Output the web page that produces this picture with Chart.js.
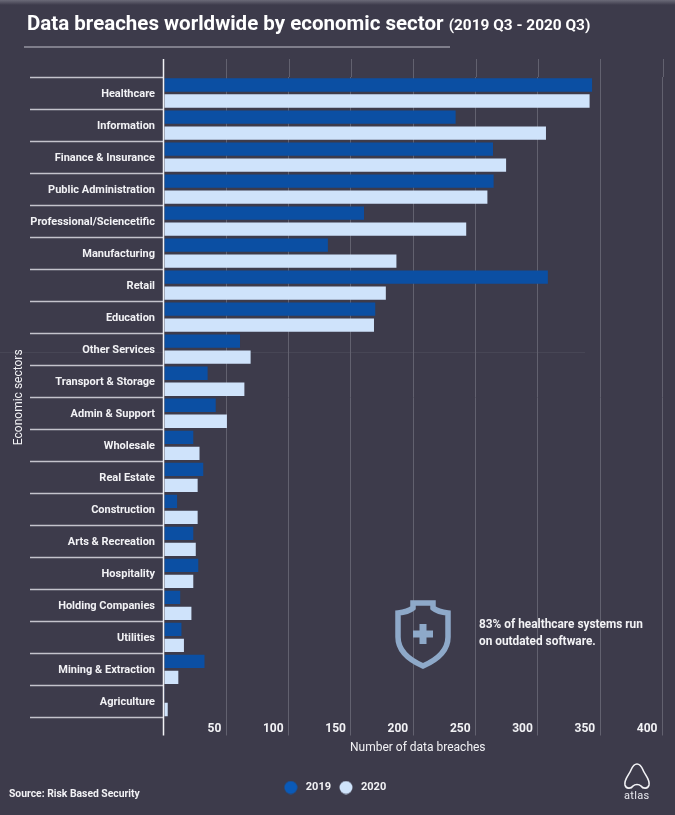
<!DOCTYPE html>
<html>
<head>
<meta charset="utf-8">
<script src="https://cdn.jsdelivr.net/npm/chart.js@4"></script>
<style>
  html, body { margin: 0; padding: 0; }
  body { width: 675px; height: 815px; overflow: hidden; position: relative; background: #3d3b4b; font-family: Roboto, sans-serif; color: #f2f2f5; }
  #topbar { position: absolute; left: 0; top: 0; width: 675px; height: 5px; background: linear-gradient(#6b6a78, #3d3b4b); }
  #faint { position: absolute; left: 0; top: 352px; width: 585px; height: 1px; background: #474655; }
  #title { position: absolute; left: 27px; top: 11px; font-size: 20.5px; font-weight: 700; color: #fff; white-space: nowrap; }
  #title span { font-size: 15.4px; }
  #rule { position: absolute; left: 24px; top: 46px; width: 426px; height: 2px; background: #7f7e8b; }
  canvas { position: absolute; left: 0; top: 0; }
  #note { position: absolute; left: 479px; top: 616px; font-size: 11.85px; line-height: 17px; font-weight: 700; white-space: nowrap; }
  #source { position: absolute; left: 9px; top: 787px; font-size: 10.35px; font-weight: 700; white-space: nowrap; }
  #shield, #logo { position: absolute; }
  #shield { left: 394px; top: 599px; }
  #logo { left: 622px; top: 762px; }
  #logotext { position: absolute; left: 624px; top: 789px; font-size: 11px; color: #e8e8ee; letter-spacing: 0.3px; }
</style>
</head>
<body>
<div id="topbar"></div>
<div id="faint"></div>
<canvas id="chart" width="675" height="815"></canvas>
<div id="title">Data breaches worldwide by economic sector <span>(2019 Q3 - 2020 Q3)</span></div>
<div id="rule"></div>
<svg id="shield" width="58" height="72" viewBox="0 0 58 72">
  <path d="M19 4 H39 V9 Q44 13 54 14 V38 Q54 56 29 67 Q4 56 4 38 V14 Q14 13 19 9 Z" fill="none" stroke="#8ea9c9" stroke-width="5.5"/>
  <path d="M25.5 25 H32.5 V31.5 H39 V38.5 H32.5 V45 H25.5 V38.5 H19 V31.5 H25.5 Z" fill="#8ea9c9"/>
</svg>
<div id="note">83% of healthcare systems run<br>on outdated software.</div>
<div id="source">Source: Risk Based Security</div>
<svg id="logo" width="30" height="30" viewBox="0 0 30 30">
  <path d="M15 2 C11 2 10 6 8 10 C6 14 2 18 3 23 C4 27 9 27 11 24 C13 22 17 22 19 24 C21 27 26 27 27 23 C28 18 24 14 22 10 C20 6 19 2 15 2 Z" fill="none" stroke="#f2f2f5" stroke-width="1.6"/>
</svg>
<div id="logotext">atlas</div>

<script>
const sectors = ["Healthcare", "Information", "Finance & Insurance", "Public Administration", "Professional/Sciencetific", "Manufacturing", "Retail", "Education", "Other Services", "Transport & Storage", "Admin & Support", "Wholesale", "Real Estate", "Construction", "Arts & Recreation", "Hospitality", "Holding Companies", "Utilities", "Mining & Extraction", "Agriculture"];
const breaches2019 = [343.5, 234, 264, 264.5, 160.5, 131.5, 308, 169.5, 61, 35, 41.5, 23.5, 31.5, 10.5, 23.5, 27.5, 13, 14, 32.5, 0.5];
const breaches2020 = [341.5, 306.5, 274.5, 259.5, 242.5, 186.5, 178, 168.5, 69.5, 64.5, 50.5, 28.5, 27, 27, 25.5, 23.5, 22, 16, 11.5, 3];
const xTicks = [0, 50, 100, 150, 200, 250, 300, 350, 400];

const gridColor = "#62616f";
const zeroColor = "#f2f2f5";
const gridTop = 59;
const gridTail = 18;

// legend dots: a bit brighter than the bars, like the original
function dot(color) {
  const c = document.createElement("canvas");
  c.width = 14;
  c.height = 14;
  const ctx = c.getContext("2d");
  ctx.fillStyle = color;
  ctx.beginPath();
  ctx.arc(7, 7, 6.5, 0, Math.PI * 2);
  ctx.fill();
  return c;
}

// grid lines run a bit above the first category in the original
const topGrid = {
  id: "topGrid",
  beforeDatasetsDraw(chart) {
    const x = chart.scales.x;
    const ctx = chart.ctx;
    ctx.save();
    ctx.lineWidth = 1;
    ctx.strokeStyle = gridColor;
    xTicks.slice(1).forEach((v) => {
      const px = Math.round(x.getPixelForValue(v)) + 0.5;
      ctx.beginPath();
      ctx.moveTo(px, gridTop);
      ctx.lineTo(px, chart.chartArea.top);
      ctx.stroke();
    });
    ctx.restore();
  },
  // the zero line stays visible next to the bars
  afterDatasetsDraw(chart) {
    const px = chart.scales.x.getPixelForValue(0) - 0.5;
    const ctx = chart.ctx;
    ctx.save();
    ctx.lineWidth = 1.5;
    ctx.strokeStyle = zeroColor;
    ctx.beginPath();
    ctx.moveTo(px, gridTop);
    ctx.lineTo(px, chart.chartArea.bottom + gridTail);
    ctx.stroke();
    ctx.restore();
  },
};

// legend and x title sit slightly right of where the layout centres them
const nudge = {
  id: "nudge",
  afterLayout(chart) {
    chart.legend.left += 2.5;
    chart.legend.right += 2.5;
    const x = chart.scales.x;
    const drawTitle = x.drawTitle;
    x.drawTitle = function () {
      chart.ctx.save();
      chart.ctx.translate(4.5, 0);
      drawTitle.call(x);
      chart.ctx.restore();
    };
  },
};

new Chart(document.getElementById("chart"), {
  type: "bar",
  plugins: [topGrid, nudge],
  data: {
    labels: sectors,
    datasets: [
      { label: "2019", data: breaches2019, backgroundColor: "#0b4fa3", hoverBackgroundColor: "#0b4fa3", pointStyle: dot("#0a5ab8") },
      { label: "2020", data: breaches2020, backgroundColor: "#cfe3fb", hoverBackgroundColor: "#cfe3fb", pointStyle: dot("#cfe3fb") },
    ],
  },
  options: {
    indexAxis: "y",
    responsive: false,
    animation: false,
    categoryPercentage: 1,
    barPercentage: 0.83,
    layout: { padding: { top: 77, right: 12.5, bottom: 12, left: 0 } },
    font: { family: "Roboto" },
    scales: {
      x: {
        min: 0,
        max: 400,
        afterBuildTicks: (scale) => { scale.ticks = xTicks.map((value) => ({ value })); },
        afterFit: (scale) => { scale.height = 59; },
        border: { display: false },
        grid: {
          color: (c) => (c.tick && c.tick.value === 0 ? "transparent" : gridColor),
          tickColor: (c) => (c.tick && c.tick.value === 0 ? "transparent" : gridColor),
          tickLength: gridTail,
        },
        ticks: {
          color: "#f2f2f5",
          font: { family: "Roboto", size: 12, weight: "bold" },
          align: "end",
          labelOffset: -5,
          padding: -14,
          maxRotation: 0,
          callback: (v) => (v === 0 ? "" : v),
        },
        title: {
          display: true,
          text: "Number of data breaches",
          color: "#f2f2f5",
          font: { family: "Roboto", size: 12 },
          padding: { top: 3, bottom: 21 },
        },
      },
      y: {
        border: { display: false },
        grid: {
          offset: true,
          drawOnChartArea: false,
          tickLength: 134,
          tickColor: "#c4c3cc",
          tickWidth: 1.5,
        },
        ticks: {
          color: "#f2f2f5",
          font: { family: "Roboto", size: 11, weight: "bold" },
          padding: -125,
          labelOffset: 1,
          autoSkip: false,
        },
        title: {
          display: true,
          text: "Economic sectors",
          color: "#f2f2f5",
          font: { family: "Roboto", size: 12 },
          padding: { top: 12, bottom: 0 },
        },
        afterFit: (scale) => { scale.width = 164; },
      },
    },
    plugins: {
      tooltip: { enabled: false },
      title: { display: false },
      legend: {
        display: true,
        position: "bottom",
        labels: {
          color: "#f2f2f5",
          font: { family: "Roboto", size: 11, weight: "bold" },
          usePointStyle: true,
          pointStyleWidth: 19,
          padding: 5.5,
        },
      },
    },
  },
});
</script>
</body>
</html>
